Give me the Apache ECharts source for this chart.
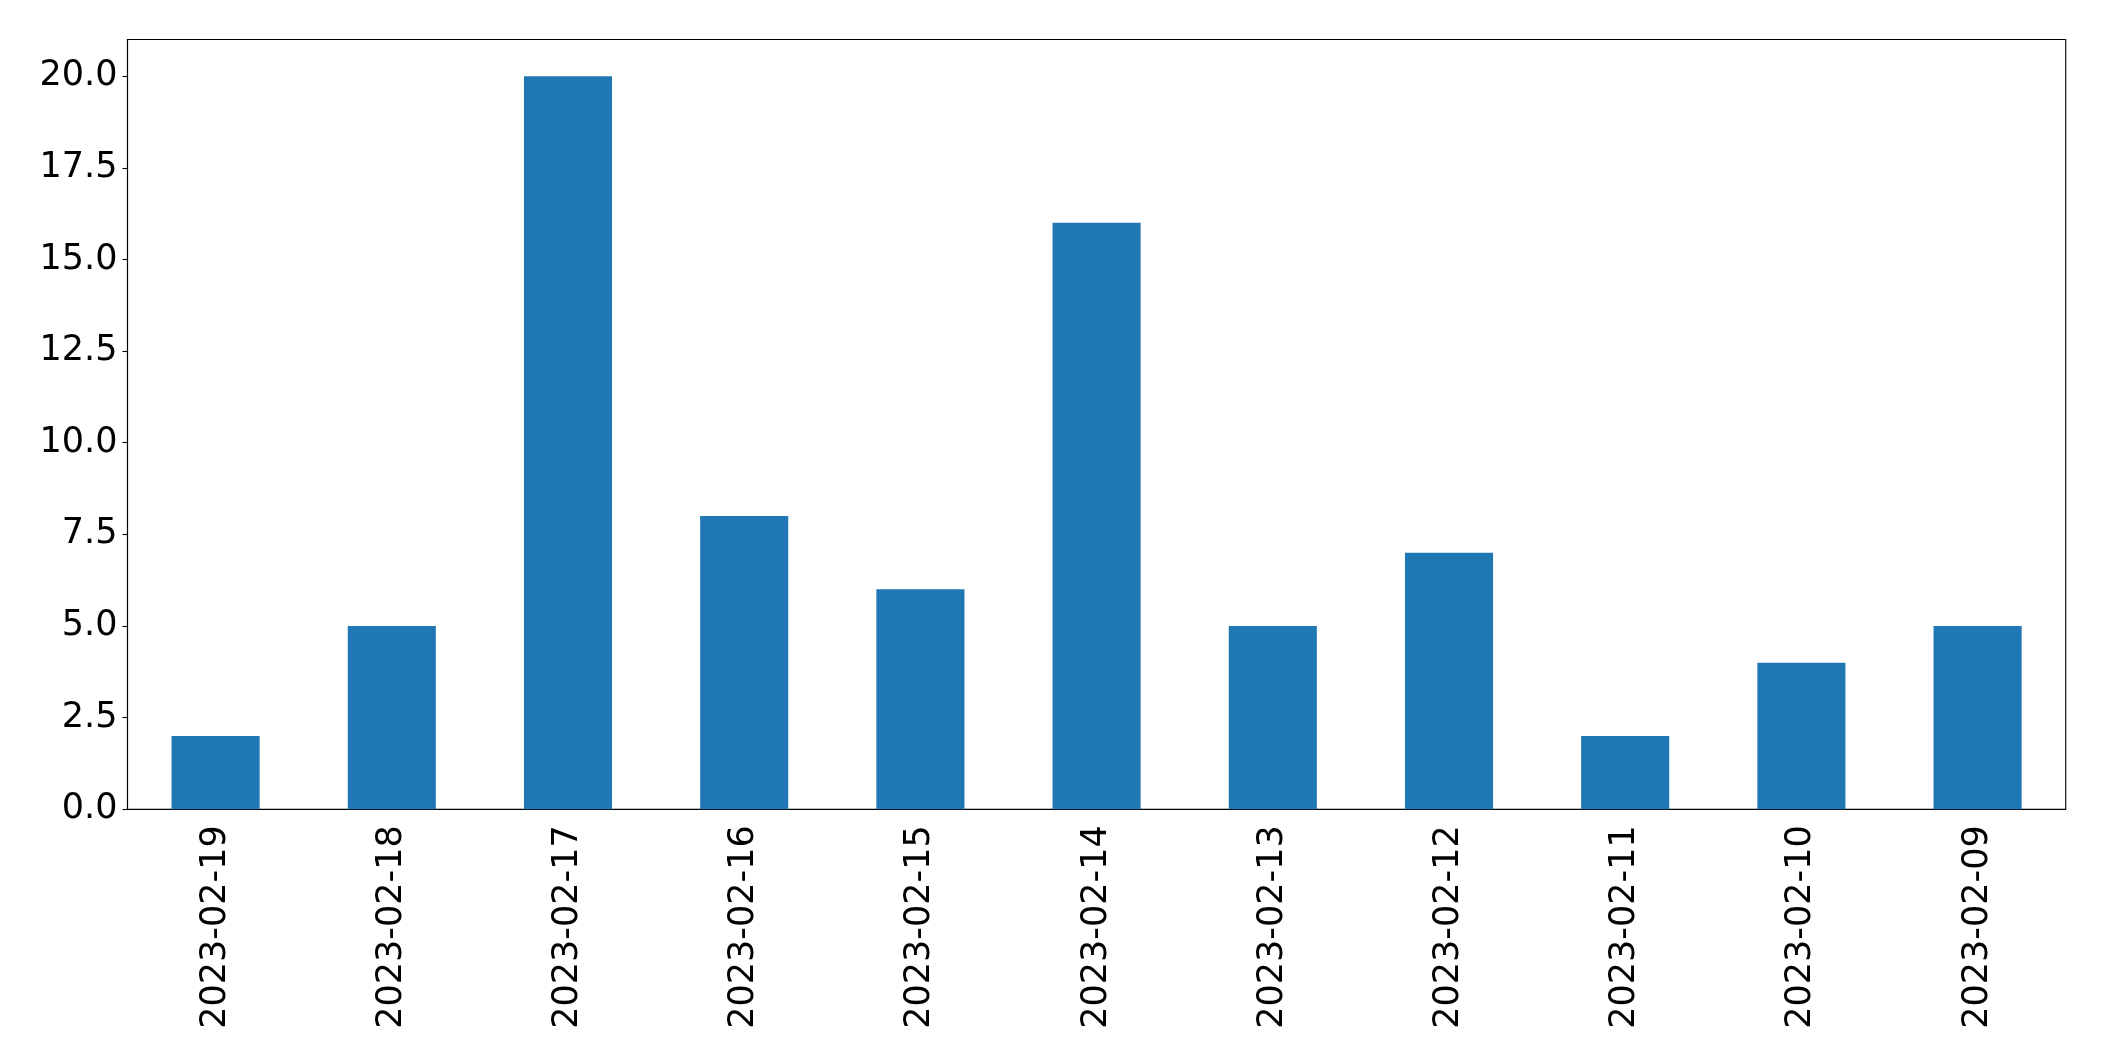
<!DOCTYPE html>
<html>
<head>
<meta charset="utf-8">
<script src="https://cdn.jsdelivr.net/npm/echarts@6/dist/echarts.min.js"></script>
<style>
html,body{margin:0;padding:0;background:#fff;}
#chart{width:2104px;height:1061px;}
</style>
</head>
<body>
<div id="chart"></div>
<script>
const categories = ['2023-02-19','2023-02-18','2023-02-17','2023-02-16','2023-02-15','2023-02-14','2023-02-13','2023-02-12','2023-02-11','2023-02-10','2023-02-09'];
const values = [2, 5, 20, 8, 6, 16, 5, 7, 2, 4, 5];
const yTicks = [0, 2.5, 5, 7.5, 10, 12.5, 15, 17.5, 20];

const chart = echarts.init(document.getElementById('chart'), null, {renderer: 'canvas'});
const font = 'DejaVu Sans';
chart.setOption({
  animation: false,
  backgroundColor: '#fff',
  grid: {
    left: 127.5, right: 38.3, top: 39.5, bottom: 251.7,
    show: true, borderColor: '#000', borderWidth: 1.1, backgroundColor: 'transparent'
  },
  xAxis: {
    type: 'category',
    data: categories,
    boundaryGap: true,
    axisLine: {lineStyle: {color: '#000', width: 1.1}},
    axisTick: {alignWithLabel: true, length: 5, lineStyle: {color: '#000', width: 1.1}},
    axisLabel: {rotate: 90, margin: 16, color: '#000', fontFamily: font, fontSize: 35, interval: 0},
    splitLine: {show: false}
  },
  yAxis: {
    type: 'value',
    min: 0, max: 21,
    axisLine: {show: true, lineStyle: {color: '#000', width: 1.1}},
    axisTick: {show: true, length: 5, customValues: yTicks, lineStyle: {color: '#000', width: 1.1}},
    axisLabel: {margin: 10, color: '#000', fontFamily: font, fontSize: 35, customValues: yTicks,
      formatter: v => Number(v).toFixed(1)},
    splitLine: {show: false}
  },
  series: [{
    type: 'bar',
    data: values,
    barWidth: '50%',
    itemStyle: {color: '#1f77b4'}
  }]
});
</script>
</body>
</html>
